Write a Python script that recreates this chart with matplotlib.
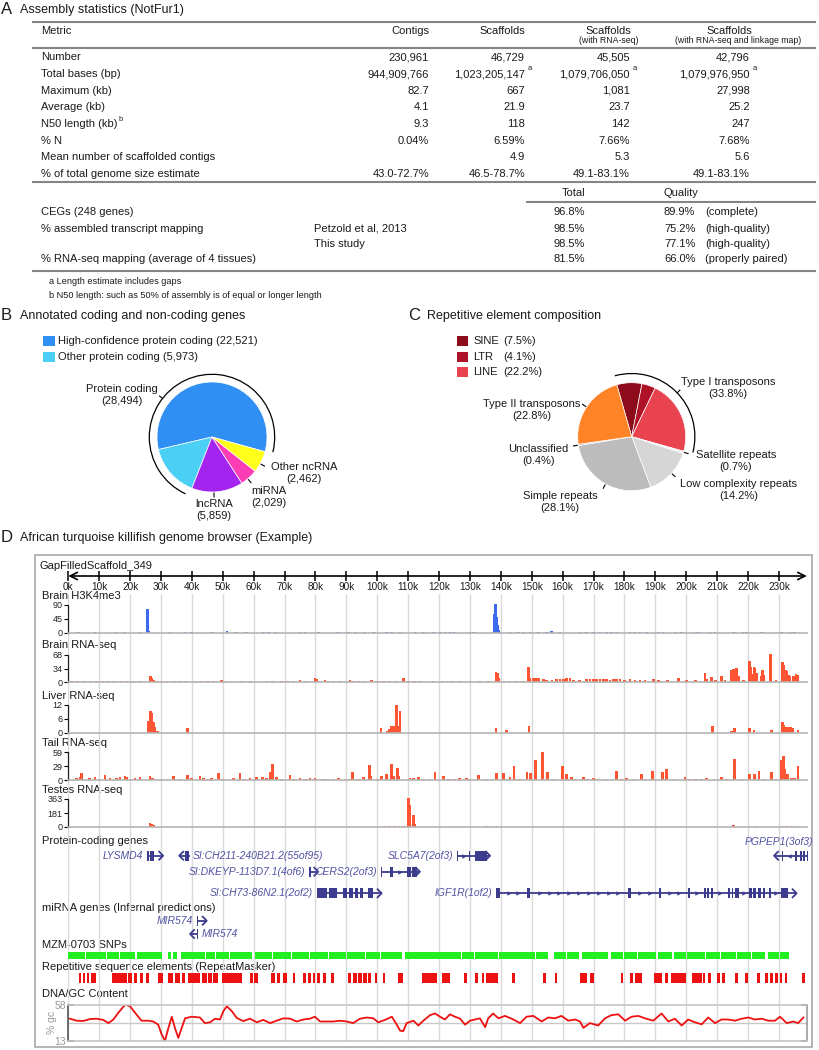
import numpy as np
import matplotlib
matplotlib.use("Agg")
import matplotlib.pyplot as plt
from matplotlib.patches import Rectangle, Arc

plt.rcParams["font.family"] = ["Liberation Sans", "DejaVu Sans"]

# ======================= DATA =======================
# ---- Panel A: assembly statistics ----
metric_names = ["Number", "Total bases (bp)", "Maximum (kb)", "Average (kb)",
                "N50 length (kb)", "% N", "Mean number of scaffolded contigs",
                "% of total genome size estimate"]
col_contigs = ["230,961", "944,909,766", "82.7", "4.1", "9.3", "0.04%", "", "43.0-72.7%"]
col_scaffolds = ["46,729", "1,023,205,147", "667", "21.9", "118", "6.59%", "4.9", "46.5-78.7%"]
col_scaf_rna = ["45,505", "1,079,706,050", "1,081", "23.7", "142", "7.66%", "5.3", "49.1-83.1%"]
col_scaf_rna_link = ["42,796", "1,079,976,950", "27,998", "25.2", "247", "7.68%", "5.6", "49.1-83.1%"]
col_headers = ["Contigs", "Scaffolds", "Scaffolds", "Scaffolds"]
col_subheaders = ["", "", "(with RNA-seq)", "(with RNA-seq and linkage map)"]
quality_metrics = ["CEGs (248 genes)", "% assembled transcript mapping", "",
                   "% RNA-seq mapping (average of 4 tissues)"]
quality_sources = ["", "Petzold et al, 2013", "This study", ""]
quality_total = ["96.8%", "98.5%", "98.5%", "81.5%"]
quality_value = ["89.9%", "75.2%", "77.1%", "66.0%"]
quality_note = ["(complete)", "(high-quality)", "(high-quality)", "(properly paired)"]
footnotes = ["a Length estimate includes gaps",
             "b N50 length: such as 50% of assembly is of equal or longer length"]

# ---- Panel B: gene classes ----
gene_class_names = ["High-confidence protein coding", "Other protein coding",
                    "lncRNA", "miRNA", "Other ncRNA"]
gene_class_counts = [22521, 5973, 5859, 2029, 2462]
gene_class_colors = ["#2f8ff2", "#4ccff5", "#a224ee", "#fd3db6", "#ffff1a"]

# ---- Panel C: repeats ----
repeat_names = ["SINE", "LTR", "LINE", "Satellite repeats", "Low complexity repeats",
                "Simple repeats", "Unclassified", "Type II transposons"]
repeat_pcts = [7.5, 4.1, 22.2, 0.7, 14.2, 28.1, 0.4, 22.8]
repeat_colors = ["#8c0c1c", "#ad1226", "#e8434f", "#eeeeee", "#d6d6d6",
                 "#bcbcbc", "#a4a4a4", "#ff8428"]

# ---- Panel D: genome browser ----
scaffold_name = "GapFilledScaffold_349"
ruler_ticks_kb = list(range(0, 240, 10))
ruler_labels = [f"{k}k" for k in ruler_ticks_kb]

h3k4me3 = [(3.2, 2), (8.6, 2), (15.4, 3), (18.4, 3), (23.2, 2), (25.6, 78), (25.9, 6),
           (32.9, 2), (37.8, 2), (39.9, 2), (46.4, 2), (51.3, 8), (54.5, 2), (57.7, 2),
           (63.1, 2), (64.7, 2), (66.9, 2), (75.0, 2), (76.6, 2), (80.9, 2), (86.9, 2),
           (87.9, 2), (90.6, 3), (92.8, 2), (96.0, 2), (98.7, 2), (103.0, 2), (104.6, 2),
           (107.4, 2), (112.2, 2), (114.9, 2), (118.1, 2), (120.3, 2), (121.9, 2),
           (123.5, 2), (124.6, 2), (130.0, 2), (131.1, 2), (138.0, 60), (138.3, 94),
           (138.6, 53), (138.9, 25), (139.3, 9), (139.7, 4), (142.9, 2), (145.6, 2),
           (147.2, 2), (149.4, 2), (152.1, 2), (154.8, 2), (156.4, 5), (159.1, 2),
           (165.6, 2), (167.7, 2), (169.9, 2), (172.1, 2), (174.2, 2), (175.8, 2),
           (177.4, 2), (181.8, 2), (183.4, 2), (185.0, 2), (187.2, 2), (190.9, 2),
           (192.5, 2), (196.3, 2), (198.5, 2), (203.3, 2), (204.4, 2), (207.7, 2),
           (209.3, 2), (215.2, 4), (218.4, 2), (219.5, 2), (224.4, 2), (230.8, 2),
           (233.5, 2), (235.1, 2)]

brain_rna = [(1, 2), (3, 2), (5, 2), (7, 2), (9, 2), (11, 2), (13, 2), (15, 2), (17, 2),
             (19, 2), (21, 2), (23, 2), (26.7, 16), (27.0, 10), (27.5, 6), (28.6, 3),
             (30, 2), (32, 2), (34, 2), (36, 2), (38, 2), (41, 2), (43, 2), (45, 2),
             (47, 2), (49.6, 5), (51, 2), (56, 2), (59, 2), (64, 2), (66, 2), (69, 2),
             (71, 2), (73, 2), (75.0, 5), (77, 2), (79.8, 10), (80.4, 8), (83.1, 5),
             (84, 2), (86, 2), (88, 2), (91.2, 6), (92, 2), (94, 2), (96, 2), (98.2, 6),
             (100, 2), (102, 2), (104, 2), (106, 2), (108.4, 10), (110, 2), (112, 2),
             (114, 2), (118, 2), (121, 2), (124, 2), (127, 2), (130, 2), (133, 2),
             (136, 2), (138.4, 26), (138.8, 22), (139.3, 10), (141, 3), (143, 3),
             (145, 3), (147, 3), (148.9, 37), (149.4, 10), (150.5, 10), (151.2, 10),
             (152.1, 9), (153.7, 8), (154.8, 6), (156.5, 4), (158.0, 7), (159.1, 8),
             (160.2, 7), (161.3, 9), (162.4, 9), (163.4, 6), (165.5, 4), (167.7, 7),
             (168.8, 8), (169.9, 8), (171.0, 7), (172.1, 8), (173.2, 7), (174.2, 8),
             (175.3, 6), (176.4, 7), (177.4, 8), (178.5, 7), (180.0, 6), (181.8, 7),
             (183.4, 6), (185.0, 6), (186.6, 5), (189.3, 7), (191.0, 5), (194.0, 5),
             (197.4, 10), (200.0, 4), (203.0, 4), (206.0, 22), (206.6, 8), (208.2, 12),
             (209.5, 6), (211.4, 14), (212.5, 6), (214.7, 31), (215.2, 33), (215.7, 31),
             (216.3, 35), (216.8, 14), (218.5, 5), (220.4, 54), (220.8, 39), (221.3, 20),
             (221.9, 37), (222.2, 35), (222.8, 22), (224.4, 14), (224.7, 31), (225.1, 18),
             (227.3, 70), (229.0, 6), (231.2, 51), (231.6, 43), (232.1, 31), (232.5, 27),
             (233.0, 18), (233.5, 15), (234.6, 16), (235.1, 14), (235.5, 20), (236.2, 18)]

liver_rna = [(25.9, 5.2), (26.7, 9.4), (27.1, 8.5), (27.5, 4.9), (28.1, 2.5), (28.8, 1),
             (38.6, 2.1), (101.2, 2.1), (103.4, 0.7), (103.9, 1.7), (104.6, 3.2),
             (105.2, 2.8), (106.3, 12), (106.6, 2.8), (107.4, 9.3), (138.4, 2.1),
             (141.8, 1.1), (149.1, 2.8), (208.4, 3.1), (214.7, 1), (215.5, 2.1),
             (220.4, 2.1), (221.9, 1.1), (227.6, 1.1), (231.2, 4.9), (231.6, 3.5),
             (232.2, 2.5), (233.0, 2.5), (233.8, 2.5), (234.4, 2.1), (236.2, 1.1)]

tail_rna = [(2.7, 3.5), (3.8, 7), (4.3, 14), (6.8, 3.5), (8.6, 5.5), (11.9, 10.4),
            (13.5, 3.5), (15.7, 3.5), (16.7, 5.5), (18.4, 9), (18.9, 5.5), (21.6, 3.5),
            (23.2, 7), (26.4, 8.3), (27.3, 4.9), (30, 2), (34.0, 8.3), (36.1, 2.1),
            (38.6, 10.4), (39.9, 3.5), (42.6, 9), (43.7, 3.5), (45, 2), (46.4, 3.5),
            (48.6, 15.3), (50, 2), (53.4, 3.5), (55.6, 13.9), (57, 2), (58.8, 3.5),
            (61.0, 7), (62.8, 5.5), (64.2, 3.5), (65.5, 17.3), (66.0, 34.7), (67.4, 5.5),
            (69, 2), (71.7, 10.4), (73, 2), (75.0, 3.5), (77, 2), (78.2, 3.5), (79.8, 3.5),
            (82.5, 2.1), (84, 2), (86, 2), (87.4, 3.5), (89.5, 2.1), (91, 2), (92.0, 17.3),
            (94, 2), (95.5, 5.5), (97.4, 31.2), (98.0, 8.3), (100, 2), (101.4, 8.3),
            (103.0, 12.5), (104.6, 34.7), (105.2, 9), (106.5, 24.3), (106.9, 9),
            (110.6, 3.5), (111.7, 3.5), (113.3, 5.5), (115, 2), (117, 2), (118.7, 17.3),
            (121.4, 9), (123, 2), (125, 2), (126.7, 3.5), (128.9, 3.5), (130, 2),
            (132.7, 10.4), (135, 2), (138.6, 13.9), (140.8, 15.3), (142.9, 7),
            (144.2, 29.1), (146, 2), (148.5, 17.3), (149.6, 15.3), (151.2, 43),
            (153.5, 59), (155.1, 17.3), (157, 3), (159.9, 29.8), (161.3, 12.5),
            (162.9, 5.5), (164, 3), (166.7, 5.5), (168, 2), (169.9, 3.5), (171, 3),
            (174, 2), (177.4, 19.4), (179, 2), (180.7, 3.5), (183, 3), (185.5, 12.5),
            (187, 3), (189.0, 18.7), (192.2, 16), (193.6, 22.2), (196, 2), (199.6, 5.5),
            (201, 2), (203, 2), (205, 2), (206.6, 3.5), (209, 2), (211.4, 5.5), (213, 3),
            (215.5, 45), (218, 2), (220.4, 12.5), (222.0, 12.5), (223.5, 19.4), (225, 3),
            (227.6, 17.3), (229, 3), (230.8, 43), (231.4, 50.7), (231.9, 22.2),
            (232.7, 12.5), (234, 4), (235, 4), (236.2, 29.1)]

testes_rna = [(26.4, 53), (27.0, 35), (27.5, 22), (100.9, 6), (102.5, 8), (104.0, 13),
              (105.5, 13), (107.0, 13), (108.5, 13), (110.0, 370), (110.6, 288),
              (111.7, 155), (112.2, 44), (125.5, 9), (135.4, 9), (138.4, 13), (215.2, 22),
              (222.2, 13), (231.0, 13), (232.5, 13), (234.0, 13), (235.5, 13)]

track_names = ["Brain H3K4me3", "Brain RNA-seq", "Liver RNA-seq", "Tail RNA-seq", "Testes RNA-seq"]
track_data = [h3k4me3, brain_rna, liver_rna, tail_rna, testes_rna]
track_ticks = [[0, 45, 90], [0, 34, 68], [0, 6, 12], [0, 29, 59], [0, 181, 363]]
track_colors = ["#3b6cf0", "#ff5534", "#ff5534", "#ff5534", "#ff5534"]

# protein-coding genes (kb)
gene_names = ["LYSMD4", "SI:CH211-240B21.2(55of95)", "SLC5A7(2of3)", "PGPEP1(3of3)",
              "SI:DKEYP-113D7.1(4of6)", "CERS2(2of3)", "SI:CH73-86N2.1(2of2)", "IGF1R(1of2)"]
gene_starts = [25.4, 35.9, 125.7, 228.4, 78.0, 101.2, 80.4, 138.4]
gene_ends = [30.7, 39.4, 136.5, 239.5, 80.9, 113.8, 101.4, 235.7]
gene_strands = [1, -1, 1, -1, 1, 1, 1, 1]
gene_rows = [0, 0, 0, 0, 1, 1, 2, 2]
gene_label_side = ["left", "right", "left", "above", "left", "left", "left", "left"]
gene_exons = [
    [(25.4, 26.1), (26.5, 27.8)],
    [(37.8, 39.2)],
    [(125.7, 126.2), (129.6, 130.1), (131.6, 135.4)],
    [(230.9, 231.4), (235.2, 235.7), (236.8, 237.3), (237.9, 238.4), (239.0, 239.5)],
    [(78.0, 78.5)],
    [(101.2, 101.6), (104.2, 105.2), (109.5, 110.8), (111.3, 112.8)],
    [(80.6, 83.6), (84.5, 86.9), (89.0, 90.1), (90.9, 92.2), (92.8, 93.9), (94.4, 95.3),
     (97.1, 98.7)],
    [(138.4, 139.7), (148.5, 149.4), (181.2, 182.0), (191.2, 191.7), (200.6, 201.2),
     (205.7, 206.4), (206.8, 207.4), (207.9, 208.5), (213.6, 214.1), (214.7, 215.2),
     (215.8, 216.3), (216.5, 217.1), (220.4, 221.3), (221.7, 222.6), (223.3, 224.1),
     (224.9, 225.5), (226.9, 227.3), (230.6, 233.0)],
]

# miRNA genes
mirna_names = ["MIR574", "MIR574"]
mirna_starts = [41.5, 39.4]
mirna_ends = [44.8, 42.1]
mirna_strands = [1, -1]
mirna_rows = [0, 1]
mirna_label_side = ["left", "right"]
mirna_exons = [[(41.5, 41.9)], [(41.7, 42.1)]]

# SNP blocks (kb)
snp_blocks = [(0, 5.5), (5.8, 12.2), (12.5, 16.4), (16.7, 21.6), (22.3, 30.2), (32.4, 33.2),
              (34.0, 35.1), (36.4, 41.5), (41.8, 44.4), (44.7, 47.5), (47.8, 52.0),
              (52.3, 59.3), (60.4, 66.0), (66.3, 72.0), (72.3, 78.0), (78.3, 84.0),
              (84.3, 90.0), (90.3, 96.0), (96.3, 101.0), (101.3, 107.9), (109.0, 114.0),
              (114.3, 119.5), (119.8, 127.0), (127.3, 131.3), (131.6, 139.0), (139.3, 147.0),
              (147.3, 151.0), (151.3, 155.3), (157.3, 161.0), (161.3, 165.3), (166.1, 174.8),
              (175.7, 179.5), (179.8, 184.0), (184.3, 190.1), (190.7, 195.5), (196.1, 200.0),
              (200.3, 206.0), (206.3, 211.0), (211.3, 216.0), (216.3, 221.0), (221.3, 225.5),
              (226.6, 230.0), (230.3, 233.1)]

# RepeatMasker elements (kb)
repeat_blocks = [(3.6, 4.1), (4.7, 5.4), (5.9, 6.6), (7.4, 9.0), (14.0, 18.9), (19.4, 20.5),
                 (21.3, 22.3), (23.2, 24.3), (25.2, 26.2), (29.1, 30.8), (32.4, 34.0),
                 (34.5, 36.2), (36.7, 37.8), (38.8, 41.5), (41.8, 42.6), (43.2, 44.8),
                 (45.3, 46.4), (46.9, 48.6), (49.6, 56.1), (58.8, 59.7), (60.2, 61.5),
                 (65.5, 66.9), (67.4, 68.5), (69.4, 70.7), (72.8, 73.4), (75.9, 76.9),
                 (77.7, 78.4), (79.3, 79.8), (80.6, 81.5), (82.5, 83.3), (84.9, 86.0),
                 (90.6, 91.4), (92.2, 93.3), (93.9, 94.9), (95.5, 96.6), (97.1, 97.9),
                 (99.3, 100.0), (101.7, 102.5), (106.8, 108.4), (114.4, 119.2), (120.8, 123.5),
                 (128.2, 128.9), (131.6, 132.7), (133.8, 134.6), (135.1, 139.2), (143.7, 144.6),
                 (153.7, 154.5), (157.5, 158.3), (165.6, 167.8), (168.8, 170.2), (178.8, 179.4),
                 (181.8, 182.9), (183.4, 185.6), (189.6, 192.0), (193.1, 194.2), (195.1, 199.8),
                 (201.7, 205.0), (205.5, 206.1), (207.1, 208.0), (209.8, 210.9), (211.7, 212.5),
                 (215.8, 216.6), (219.0, 219.9), (222.8, 223.9), (225.5, 226.6), (227.1, 228.2),
                 (228.7, 229.8), (230.3, 230.9), (231.9, 232.5), (237.3, 238.4)]

# GC content (% gc)
gc_kb = [0.5, 2.7, 4.9, 7.0, 9.2, 11.3, 13.0, 14.6, 16.2, 18.4, 20.0, 22.1, 23.7, 25.9, 27.5,
         29.1, 30.2, 31.3, 32.4, 33.5, 34.5, 35.6, 36.7, 37.8, 39.9, 42.6, 44.2, 45.9, 47.5,
         49.1, 50.2, 51.3, 52.9, 54.5, 56.6, 58.8, 61.0, 63.1, 65.3, 67.4, 69.6, 71.8, 73.9,
         76.1, 78.2, 79.8, 81.5, 83.6, 85.8, 87.9, 90.1, 92.2, 94.4, 96.6, 98.7, 100.3, 102.5,
         104.7, 106.3, 107.4, 108.4, 109.5, 111.7, 113.3, 114.9, 117.1, 118.7, 120.3, 121.9,
         123.5, 125.1, 126.8, 128.4, 130.0, 131.6, 133.2, 134.9, 135.9, 137.5, 139.2, 141.3,
         143.5, 146.2, 148.3, 150.5, 153.2, 155.3, 157.5, 159.6, 161.8, 164.0, 165.6, 166.7,
         168.8, 171.5, 173.7, 175.8, 178.0, 180.2, 182.3, 184.5, 186.6, 189.3, 192.0, 194.2,
         196.3, 198.5, 200.6, 202.8, 205.0, 207.1, 209.3, 211.4, 213.6, 215.8, 217.9, 220.1,
         222.2, 224.4, 226.5, 228.7, 230.3, 232.5, 234.6, 236.2, 237.9]
gc_pct = [40.5, 38, 37.7, 40, 40.5, 39, 35, 39.5, 48, 58, 56, 45.5, 38, 38, 37, 33, 21, 13,
          29, 43, 29, 16.5, 29, 41, 43, 42, 35, 36, 40.5, 39.5, 50, 56, 50, 41.5, 37.5, 40.5,
          36, 39, 35, 38, 41, 40.5, 37, 39.5, 40.5, 43, 37, 37, 37, 38, 37, 35, 40.5, 42, 41,
          36, 39, 43, 33, 25.5, 25, 35, 38, 32, 38, 45, 47, 43,
          39.5, 46, 43, 40.5, 33, 38, 39.5, 41, 30, 41, 47, 41, 44, 40.5, 35, 43, 44, 37, 42,
          41, 44, 38, 39.5, 37, 29, 35, 32, 41, 45, 46, 38, 43, 44, 41, 38, 47, 37, 40.5, 32,
          39.5, 36, 33.5, 42, 35, 39.5, 39.5, 38, 40.5, 42, 39.5, 40.5, 38, 38, 43, 35, 37,
          35, 42]
gc_ticks = [13, 58]

# ======================= LAYOUT =======================
W, H = 820, 1050
fig = plt.figure(figsize=(8.2, 10.5), dpi=100, facecolor="white")


def px_axes(x0, y0, x1, y1):
    return fig.add_axes([x0 / W, 1 - y1 / H, (x1 - x0) / W, (y1 - y0) / H])


bg = px_axes(0, 0, W, H)
bg.set_xlim(0, W)
bg.set_ylim(H, 0)
bg.axis("off")

TXT = "#1a1a1a"
FS = 8

# ---------------- Panel A ----------------
bg.text(1, 10, "A", fontsize=12, va="center", color=TXT)
bg.text(20, 10.5, "Assembly statistics (NotFur1)", fontsize=9, va="center", color=TXT)
rule_kw = dict(color="#858585", lw=1.5)
bg.plot([33, 815], [21.7, 21.7], **rule_kw)
bg.plot([33, 815], [48.3, 48.3], **rule_kw)
bg.plot([33, 815], [181.7, 181.7], **rule_kw)
bg.plot([527, 815], [201.7, 201.7], **rule_kw)
bg.plot([33, 815], [270.7, 270.7], **rule_kw)

bg.text(41, 31, "Metric", fontsize=FS, va="center", color=TXT)
col_right = [429, 525, 630, 750]
bg.text(col_right[0], 31, col_headers[0], fontsize=FS, va="center", ha="right", color=TXT)
bg.text(col_right[1], 31, col_headers[1], fontsize=FS, va="center", ha="right", color=TXT)
bg.text(608.5, 31, col_headers[2], fontsize=FS, va="center", ha="center", color=TXT)
bg.text(608.5, 40.7, col_subheaders[2], fontsize=6.3, va="center", ha="center", color=TXT)
bg.text(729, 31, col_headers[3], fontsize=FS, va="center", ha="center", color=TXT)
bg.text(738, 40.7, col_subheaders[3], fontsize=6.3, va="center", ha="center", color=TXT)

cols = [col_contigs, col_scaffolds, col_scaf_rna, col_scaf_rna_link]
for i, name in enumerate(metric_names):
    y = 57.5 + 16.6 * i
    bg.text(41, y, name, fontsize=FS, va="center", color=TXT)
    if name.startswith("N50"):
        bg.text(119, y - 4.5, "b", fontsize=5.5, va="center", color=TXT)
    for j, col in enumerate(cols):
        bg.text(col_right[j], y, col[i], fontsize=FS, va="center", ha="right", color=TXT)
        if name.startswith("Total") and j > 0:
            bg.text(col_right[j] + 3, y - 5.5, "a", fontsize=5.5, va="center", color=TXT)

bg.text(562, 192.7, "Total", fontsize=FS, va="center", color=TXT)
bg.text(664, 192.7, "Quality", fontsize=FS, va="center", color=TXT)
q_y = [212, 228.5, 244, 259.5]
for i in range(4):
    bg.text(41, q_y[i], quality_metrics[i], fontsize=FS, va="center", color=TXT)
    bg.text(314.3, q_y[i], quality_sources[i], fontsize=FS, va="center", color=TXT)
    bg.text(553.3, q_y[i], quality_total[i], fontsize=FS, va="center", color=TXT)
    bg.text(664, q_y[i], quality_value[i], fontsize=FS, va="center", color=TXT)
    bg.text(705, q_y[i], quality_note[i], fontsize=FS, va="center", color=TXT)
bg.text(49, 281, footnotes[0], fontsize=6.6, va="center", color=TXT)
bg.text(49, 295, footnotes[1], fontsize=6.6, va="center", color=TXT)

# ---------------- Panel B ----------------
bg.text(1, 316, "B", fontsize=12, va="center", color=TXT)
bg.text(20, 316.5, "Annotated coding and non-coding genes", fontsize=9, va="center", color=TXT)
for k, yy in enumerate([341, 357]):
    bg.add_patch(Rectangle((43, yy - 5), 12, 10, color=gene_class_colors[k], lw=0))
    bg.text(58.5, yy, f"{gene_class_names[k]} ({gene_class_counts[k]:,})", fontsize=FS,
            va="center", color=TXT)

cxB, cyB, rB = 212, 437, 55
pieB = px_axes(cxB - 1.6 * rB, cyB - 1.6 * rB, cxB + 1.6 * rB, cyB + 1.6 * rB)
pieB.pie(gene_class_counts, colors=gene_class_colors, startangle=-15.5, counterclock=True,
         wedgeprops=dict(edgecolor="white", linewidth=0.5))
pieB.set_xlim(-1.6, 1.6)
pieB.set_ylim(-1.6, 1.6)
pieB.axis("off")


def radial_tick(ax, ang, r0, r1):
    a = np.deg2rad(ang)
    ax.plot([r0 * np.cos(a), r1 * np.cos(a)], [r0 * np.sin(a), r1 * np.sin(a)],
            color="black", lw=0.8, clip_on=False)


pieB.add_patch(Arc((0, 0), 2.28, 2.28, theta1=-14, theta2=245, color="black", lw=0.9))
radial_tick(pieB, 142, 1.14, 1.21)
for ang in [-29, -49.5, -88]:
    radial_tick(pieB, ang, 1.02, 1.09)

protein_total = gene_class_counts[0] + gene_class_counts[1]
bg.text(121.7, 395, f"Protein coding\n({protein_total:,})", fontsize=FS, ha="center",
        va="center", linespacing=1.25, color=TXT)
bg.text(304, 473.5, f"Other ncRNA\n({gene_class_counts[4]:,})", fontsize=FS, ha="center",
        va="center", linespacing=1.25, color=TXT)
bg.text(268.5, 496.5, f"miRNA\n({gene_class_counts[3]:,})", fontsize=FS, ha="center",
        va="center", linespacing=1.25, color=TXT)
bg.text(214, 510, f"lncRNA\n({gene_class_counts[2]:,})", fontsize=FS, ha="center",
        va="center", linespacing=1.25, color=TXT)

# ---------------- Panel C ----------------
bg.text(408, 316, "C", fontsize=12, va="center", color=TXT)
bg.text(427, 316.5, "Repetitive element composition", fontsize=9, va="center", color=TXT)
for k, yy in enumerate([341.3, 356.7, 372.3]):
    bg.add_patch(Rectangle((456.7, yy - 5), 11.6, 10, color=repeat_colors[k], lw=0))
    bg.text(473.3, yy, repeat_names[k], fontsize=FS, va="center", color=TXT)
    bg.text(503.5, yy, f"({repeat_pcts[k]}%)", fontsize=FS, va="center", color=TXT)

cxC, cyC, rC = 631.7, 436.7, 54
pieC = px_axes(cxC - 1.6 * rC, cyC - 1.6 * rC, cxC + 1.6 * rC, cyC + 1.6 * rC)
pieC.pie(repeat_pcts, colors=repeat_colors, startangle=106, counterclock=False,
         wedgeprops=dict(edgecolor="white", linewidth=0.5))
pieC.set_xlim(-1.6, 1.6)
pieC.set_ylim(-1.6, 1.6)
pieC.axis("off")
pieC.add_patch(Arc((0, 0), 2.34, 2.34, theta1=-14.5, theta2=105.5, color="black", lw=0.9))
radial_tick(pieC, 44, 1.17, 1.24)
for ang in [146.7, -171, -118.9, -16.7, -42.6]:
    radial_tick(pieC, ang, 1.02, 1.09)

type1 = round(sum(repeat_pcts[:3]), 1)
bg.text(728.3, 388.3, f"Type I transposons\n({type1}%)", fontsize=FS, ha="center",
        va="center", linespacing=1.25, color=TXT)
bg.text(531.7, 410, f"{repeat_names[7]}\n({repeat_pcts[7]}%)", fontsize=FS, ha="center",
        va="center", linespacing=1.25, color=TXT)
bg.text(538.3, 455, f"{repeat_names[6]}\n({repeat_pcts[6]}%)", fontsize=FS, ha="center",
        va="center", linespacing=1.25, color=TXT)
bg.text(560, 501.7, f"{repeat_names[5]}\n({repeat_pcts[5]}%)", fontsize=FS, ha="center",
        va="center", linespacing=1.25, color=TXT)
bg.text(736, 460.5, f"{repeat_names[3]}\n({repeat_pcts[3]}%)", fontsize=FS, ha="center",
        va="center", linespacing=1.25, color=TXT)
bg.text(738.3, 490.3, f"{repeat_names[4]}\n({repeat_pcts[4]}%)", fontsize=FS, ha="center",
        va="center", linespacing=1.25, color=TXT)

# ---------------- Panel D ----------------
bg.text(1, 537, "D", fontsize=12, va="center", color=TXT)
bg.text(20, 537.5, "African turquoise killifish genome browser (Example)", fontsize=9,
        va="center", color=TXT)
bg.add_patch(Rectangle((35, 555), 777, 492, fill=False, edgecolor="#a8a8a8", lw=1.2))
bg.text(40, 566, scaffold_name, fontsize=FS, va="center", color=TXT)

KX0, PXKB, XMAX = 68.3, 3.09, 239.0
KX1 = KX0 + PXKB * XMAX

# grid
grid = px_axes(KX0, 594, KX1, 1041)
grid.set_xlim(0, XMAX)
grid.set_xticks(ruler_ticks_kb)
grid.grid(axis="x", color="#dadada", lw=1)
grid.tick_params(length=0, labelbottom=False, labelleft=False)
grid.set_yticks([])
for s in grid.spines.values():
    s.set_visible(False)
grid.patch.set_visible(False)

# ruler
ruler = px_axes(KX0, 571, KX1, 581)
ruler.set_xlim(0, XMAX)
ruler.set_ylim(-1, 1)
for s in ruler.spines.values():
    s.set_visible(False)
ruler.spines["bottom"].set_position(("data", 0))
ruler.set_xticks(ruler_ticks_kb)
ruler.set_xticklabels(ruler_labels, fontsize=7.2, color=TXT)
ruler.tick_params(axis="x", direction="inout", length=7, width=1.1, pad=0.5)
ruler.set_yticks([])
ruler.patch.set_visible(False)
ruler.annotate("", xy=(0, 0), xytext=(XMAX, 0), annotation_clip=False,
               arrowprops=dict(arrowstyle="<->", lw=1.2, color="black", shrinkA=0,
                               shrinkB=0, mutation_scale=13))

# signal tracks
track_label_y = [596, 645, 696, 743, 790]
track_top = [605, 655, 705, 752, 799]
track_base = [633, 682, 733, 780, 827]
for name, data, ticks, col, ly, t, b in zip(track_names, track_data, track_ticks,
                                            track_colors, track_label_y, track_top, track_base):
    bg.text(42, ly, name, fontsize=FS, va="center", color=TXT)
    ax = px_axes(KX0, t, KX1, b)
    kb = [p[0] for p in data]
    val = [p[1] for p in data]
    ax.bar(kb, val, width=0.85, color=col, linewidth=0, clip_on=False)
    ax.set_xlim(0, XMAX)
    ax.set_ylim(0, ticks[-1])
    ax.set_yticks(ticks)
    ax.set_yticklabels([str(v) for v in ticks], fontsize=6.5, color="#222222")
    ax.tick_params(axis="y", length=3, width=0.8, pad=1.2)
    ax.set_xticks([])
    ax.spines["top"].set_visible(False)
    ax.spines["right"].set_visible(False)
    ax.spines["left"].set_color("#222222")
    ax.spines["left"].set_linewidth(0.9)
    ax.spines["bottom"].set_color("#b4b4b4")
    ax.spines["bottom"].set_linewidth(1.2)
    ax.patch.set_visible(False)

GENE_C = "#3c3c8e"
LABEL_C = "#5252a4"


def intron_marks(ax, a, b, y, strand):
    n = int((b - a) // 3.2)
    if n < 1:
        return
    xs = np.linspace(a, b, n + 2)[1:-1]
    ax.plot(xs, [y] * len(xs), ls="none", marker=">" if strand > 0 else "<", ms=3.2,
            color=GENE_C, clip_on=False, mew=0)


def draw_gene(ax, name, start, end, strand, y, exons, side):
    ax.plot([start, end], [y, y], color=GENE_C, lw=1.3, clip_on=False, solid_capstyle="butt")
    for s, e in exons:
        ax.add_patch(Rectangle((s, y - 5), e - s, 10, color=GENE_C, lw=0, clip_on=False))
    bounds = [start] + [v for ex in exons for v in ex] + [end]
    for k in range(0, len(bounds) - 1, 2):
        intron_marks(ax, bounds[k], bounds[k + 1], y, strand)
    tip = end if strand > 0 else start
    d = 1.3 * strand
    ax.plot([tip - d, tip, tip - d], [y - 4, y, y + 4], color=GENE_C, lw=1.3, clip_on=False)
    if side == "left":
        ax.text(start - 1.2, y, name, ha="right", va="center", fontsize=7.5,
                style="italic", color=LABEL_C, clip_on=False)
    elif side == "right":
        ax.text(end + 1.0, y, name, ha="left", va="center", fontsize=7.5,
                style="italic", color=LABEL_C, clip_on=False)
    else:
        ax.text(end + 1.5, y - 14, name, ha="right", va="center", fontsize=7.5,
                style="italic", color=LABEL_C, clip_on=False)


bg.text(42, 841, "Protein-coding genes", fontsize=FS, va="center", color=TXT)
gax = px_axes(KX0, 834, KX1, 902)
gax.set_xlim(0, XMAX)
gax.set_ylim(902, 834)
gax.axis("off")
gene_row_y = [855.7, 871.7, 893.3]
for i in range(len(gene_names)):
    draw_gene(gax, gene_names[i], gene_starts[i], gene_ends[i], gene_strands[i],
              gene_row_y[gene_rows[i]], gene_exons[i], gene_label_side[i])

bg.text(42, 907.7, "miRNA genes (Infernal predictions)", fontsize=FS, va="center", color=TXT)
max_ = px_axes(KX0, 912, KX1, 942)
max_.set_xlim(0, XMAX)
max_.set_ylim(942, 912)
max_.axis("off")
mirna_row_y = [920.7, 934]
for i in range(len(mirna_names)):
    draw_gene(max_, mirna_names[i], mirna_starts[i], mirna_ends[i], mirna_strands[i],
              mirna_row_y[mirna_rows[i]], mirna_exons[i], mirna_label_side[i])

bg.text(42, 945, "MZM-0703 SNPs", fontsize=FS, va="center", color=TXT)
sax = px_axes(KX0, 952, KX1, 958.5)
sax.set_xlim(0, XMAX)
sax.set_ylim(0, 1)
sax.broken_barh([(s, e - s) for s, e in snp_blocks], (0, 1), color="#22ee22", lw=0)
sax.axis("off")

bg.text(42, 967.3, "Repetitive sequence elements (RepeatMasker)", fontsize=FS, va="center",
        color=TXT)
rax = px_axes(KX0, 973, KX1, 983)
rax.set_xlim(0, XMAX)
rax.set_ylim(0, 1)
rax.broken_barh([(s, e - s) for s, e in repeat_blocks], (0, 1), color="#ee1111", lw=0)
rax.axis("off")

bg.text(42, 994, "DNA/GC Content", fontsize=FS, va="center", color=TXT)
gc = px_axes(KX0, 1004.7, KX1, 1040.7)
gc.plot(gc_kb, gc_pct, color="#ee1111", lw=1.3)
gc.set_xlim(0, XMAX)
gc.set_ylim(gc_ticks[0], gc_ticks[-1])
gc.axhline(np.mean(gc_ticks), color="#c8c8c8", lw=1, zorder=0)
gc.set_xticks([])
gc.set_yticks(gc_ticks)
gc.set_yticklabels([str(v) for v in gc_ticks], fontsize=7.5, color="#9a9a9a")
gc.tick_params(axis="y", direction="in", length=4, width=1.1, colors="#555555",
               labelcolor="#9a9a9a", pad=1.5, right=True)
gc.spines["top"].set_color("#c4c4c4")
gc.spines["bottom"].set_color("#c4c4c4")
gc.spines["left"].set_color("#555555")
gc.spines["right"].set_color("#9a9a9a")
for s in gc.spines.values():
    s.set_linewidth(1.2)
gc.patch.set_visible(False)
bg.text(52, 1022, "% gc", rotation=90, fontsize=7.5, color="#9a9a9a", ha="center",
        va="center")

fig.savefig("out.png", dpi=100, facecolor="white")
